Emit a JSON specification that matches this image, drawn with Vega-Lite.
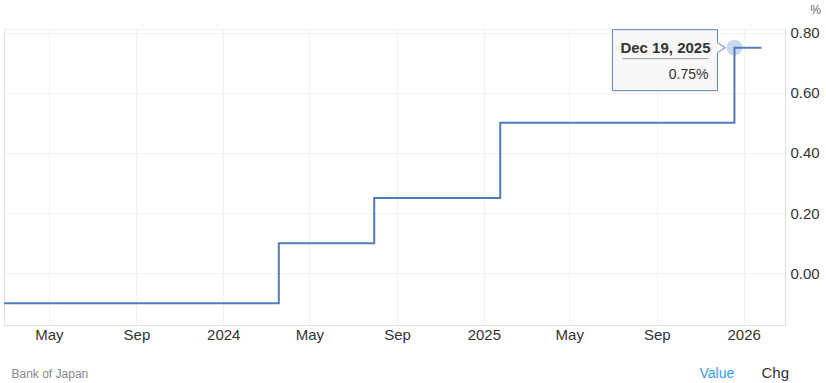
{
  "$schema": "https://vega.github.io/schema/vega-lite/v6.json",
  "width": 781,
  "height": 296,
  "autosize": {"type": "none"},
  "padding": {"left": 4, "top": 29, "right": 41, "bottom": 58},
  "background": "white",
  "config": {
    "font": "Liberation Sans",
    "view": {"stroke": "#dedede", "strokeDash": [1, 1]}
  },
  "datasets": {
    "rate": [
      {"date": "2023/01/31", "value": -0.1},
      {"date": "2024/03/19", "value": 0.1},
      {"date": "2024/07/31", "value": 0.25},
      {"date": "2025/01/24", "value": 0.5},
      {"date": "2025/12/19", "value": 0.75},
      {"date": "2026/01/26", "value": 0.75}
    ],
    "hl": [{"date": "2025/12/19", "value": 0.75}]
  },
  "resolve": {"axis": {"x": "independent", "y": "independent"}},
  "layer": [
    {
      "data": {"name": "hl"},
      "mark": {"type": "circle", "size": 254, "color": "#c5d4ec", "opacity": 0.9},
      "encoding": {
        "x": {"field": "date", "type": "temporal",
          "scale": {"domain": [{"year": 2023, "month": 2, "date": 27}, {"year": 2026, "month": 2, "date": 28}]},
          "axis": {"orient": "top", "labels": false, "ticks": false, "grid": false, "domain": false,
            "title": "Chg", "titleX": 757, "titleY": 348, "titleAlign": "left", "titleAnchor": null, "titleBaseline": "alphabetic",
            "titleFontSize": 15, "titleFontWeight": "normal", "titleColor": "#333"}},
        "y": {"field": "value", "type": "quantitative",
          "scale": {"domain": [-0.172, 0.812], "nice": false, "zero": false},
          "axis": {"orient": "left", "labels": false, "ticks": false, "grid": false, "domainColor": "#e0e0e0",
            "title": "Bank of Japan", "titleAngle": 0, "titleX": 7, "titleY": 348, "titleAlign": "left", "titleBaseline": "alphabetic",
            "titleFontSize": 12, "titleFontWeight": "normal", "titleColor": "#888"}}
      }
    },
    {
      "data": {"name": "rate"},
      "mark": {"type": "line", "interpolate": "step-after", "color": "#4f7cbf", "strokeWidth": 2, "clip": true},
      "encoding": {
        "x": {"field": "date", "type": "temporal",
          "axis": {"orient": "bottom", "grid": true,
            "values": [
              {"year": 2023, "month": 5, "date": 1}, {"year": 2023, "month": 9, "date": 1},
              {"year": 2024, "month": 1, "date": 1}, {"year": 2024, "month": 5, "date": 1},
              {"year": 2024, "month": 9, "date": 1}, {"year": 2025, "month": 1, "date": 1},
              {"year": 2025, "month": 5, "date": 1}, {"year": 2025, "month": 9, "date": 1},
              {"year": 2026, "month": 1, "date": 1}],
            "labelExpr": "month(datum.value) == 0 ? timeFormat(datum.value, '%Y') : timeFormat(datum.value, '%b')",
            "ticks": false, "labelPadding": 2, "labelFontSize": 15, "labelColor": "#333",
            "labelFlush": false, "labelOverlap": false,
            "domainColor": "#e0e0e0", "gridColor": "#e3e3e3", "gridDash": [1, 1], "gridOpacity": 1,
            "title": "Value", "titleX": 695, "titleY": 52, "titleAlign": "left", "titleAnchor": null, "titleBaseline": "alphabetic",
            "titleFontSize": 14, "titleFontWeight": "normal", "titleColor": "#3b97f0"}},
        "y": {"field": "value", "type": "quantitative",
          "axis": {"orient": "right", "grid": true, "values": [0, 0.2, 0.4, 0.6, 0.8], "format": ".2f",
            "ticks": false, "labelPadding": 5, "labelFontSize": 15, "labelColor": "#333",
            "domainColor": "#e0e0e0", "gridColor": "#e3e3e3", "gridDash": [1, 1], "gridOpacity": 1,
            "title": "%", "titleAngle": 0, "titleX": 30, "titleY": -16, "titleAlign": "center", "titleBaseline": "alphabetic",
            "titleFontSize": 12, "titleFontWeight": "normal", "titleColor": "#666"}}
      }
    },
    {
      "data": {"name": "hl"},
      "mark": {"type": "point", "shape": "M-122,-18L-17,-18L-17,-5L-9,0L-17,5L-17,43L-122,43Z", "size": 4,
        "filled": true, "fill": "#f7f7f7", "stroke": "#5b85c0", "strokeWidth": 1, "opacity": 1},
      "encoding": {
        "x": {"field": "date", "type": "temporal", "axis": null},
        "y": {"field": "value", "type": "quantitative", "axis": null}
      }
    },
    {
      "data": {"name": "hl"},
      "mark": {"type": "point", "shape": "M-112,11L-26,11", "size": 4, "filled": false, "stroke": "#999", "strokeWidth": 1, "opacity": 1},
      "encoding": {
        "x": {"field": "date", "type": "temporal", "axis": null},
        "y": {"field": "value", "type": "quantitative", "axis": null}
      }
    },
    {
      "data": {"name": "hl"},
      "mark": {"type": "text", "dx": -69, "dy": 5, "align": "center", "baseline": "alphabetic",
        "fontWeight": "bold", "fontSize": 15, "color": "#333"},
      "encoding": {
        "x": {"field": "date", "type": "temporal", "axis": null},
        "y": {"field": "value", "type": "quantitative", "axis": null},
        "text": {"field": "date", "type": "temporal", "format": "%b %d, %Y"}
      }
    },
    {
      "data": {"name": "hl"},
      "transform": [{"calculate": "format(datum.value, '.2f') + '%'", "as": "label"}],
      "mark": {"type": "text", "dx": -26, "dy": 31, "align": "right", "baseline": "alphabetic",
        "fontSize": 14, "color": "#333"},
      "encoding": {
        "x": {"field": "date", "type": "temporal", "axis": null},
        "y": {"field": "value", "type": "quantitative", "axis": null},
        "text": {"field": "label", "type": "nominal"}
      }
    }
  ]
}
